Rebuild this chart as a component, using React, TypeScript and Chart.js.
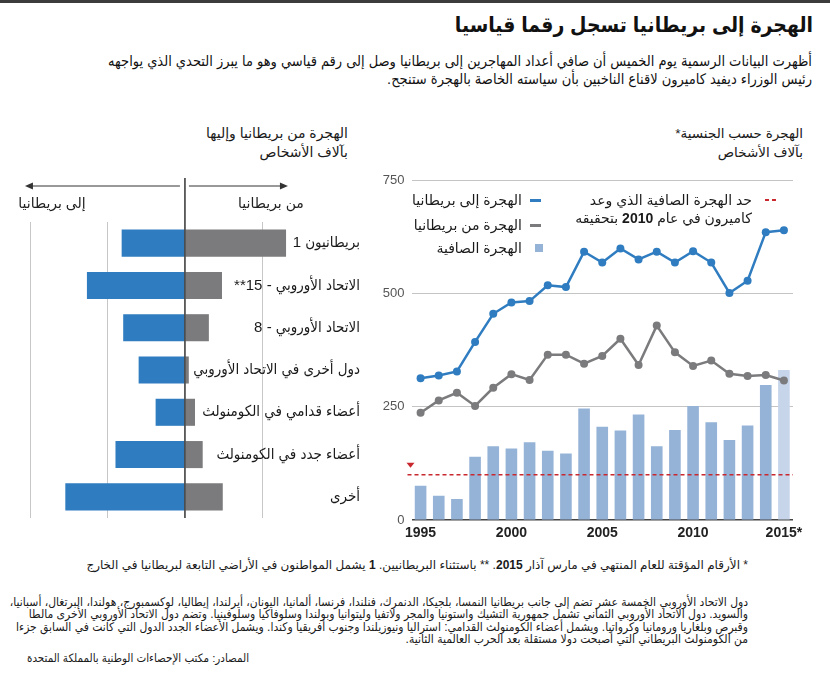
import React, { useEffect, useRef } from "react";
import { Chart, registerables } from "chart.js";

Chart.register(...registerables);

// ---------- data ----------
const years = ["1995","1996","1997","1998","1999","2000","2001","2002","2003","2004","2005","2006","2007","2008","2009","2010","2011","2012","2013","2014","2015"];
const yearTickLabels: Record<string, string> = { "1995": "1995", "2000": "2000", "2005": "2005", "2010": "2010", "2015": "2015*" };
const immigration = [313, 319, 328, 393, 455, 480, 483, 518, 514, 592, 568, 599, 575, 592, 568, 593, 568, 501, 528, 635, 639];
const emigration = [237, 264, 281, 252, 292, 322, 309, 365, 365, 345, 362, 400, 342, 429, 370, 340, 352, 323, 318, 320, 308];
const netMigration = [76, 54, 47, 140, 163, 158, 172, 153, 147, 246, 206, 198, 233, 163, 199, 252, 216, 177, 209, 298, 331];
const netTarget = 100;
const provisionalYear = "2015";

const groups = [
  "بريطانيون 1",
  "الاتحاد الأوروبي - 15**",
  "الاتحاد الأوروبي - 8",
  "دول أخرى في الاتحاد الأوروبي",
  "أعضاء قدامي في الكومنولث",
  "أعضاء جدد في الكومنولث",
  "أخرى",
];
const toUK = [82, 127, 80, 60, 38, 90, 155];
const fromUK = [131, 48, 31, 5, 13, 23, 49];

const F = '"Liberation Sans", "DejaVu Sans", Arial, sans-serif';
const FC = '"Liberation Sans", "DejaVu Sans Condensed", "DejaVu Sans", Arial, sans-serif';

const BLUE = "#2f7dc0";
const GREY = "#7b7b7d";
const NET = "#95b3d7";
const NET_LIGHT = "#c7d5ea";
const RED = "#c8282e";

export default function App() {
  const leftRef = useRef<HTMLCanvasElement>(null);
  const rightRef = useRef<HTMLCanvasElement>(null);

  useEffect(() => {
    const leftDecor = {
      id: "leftDecor",
      afterDraw(chart: any) {
        const ctx = chart.ctx;
        const xs = chart.scales.x;
        const ys = chart.scales.y;
        const ca = chart.chartArea;
        const x0 = xs.getPixelForValue(0);
        ctx.save();
        ctx.strokeStyle = "#333";
        ctx.lineWidth = 1.5;
        ctx.beginPath();
        ctx.moveTo(x0, 68);
        ctx.lineTo(x0, ca.bottom);
        ctx.stroke();
        const ay = 76;
        ctx.lineWidth = 1;
        ctx.fillStyle = "#333";
        ctx.beginPath();
        ctx.moveTo(x0 - 5, ay);
        ctx.lineTo(x0 - 155, ay);
        ctx.moveTo(x0 + 4, ay);
        ctx.lineTo(x0 + 98, ay);
        ctx.stroke();
        ctx.beginPath();
        ctx.moveTo(x0 - 160, ay);
        ctx.lineTo(x0 - 152, ay - 3.5);
        ctx.lineTo(x0 - 152, ay + 3.5);
        ctx.closePath();
        ctx.fill();
        ctx.beginPath();
        ctx.moveTo(x0 + 103, ay);
        ctx.lineTo(x0 + 95, ay - 3.5);
        ctx.lineTo(x0 + 95, ay + 3.5);
        ctx.closePath();
        ctx.fill();
        ctx.fillStyle = "#222";
        ctx.font = `14px ${F}`;
        ctx.textAlign = "center";
        ctx.textBaseline = "middle";
        (ctx as any).direction = "rtl";
        ctx.fillText("إلى بريطانيا", x0 - 133, 94);
        ctx.fillText("من بريطانيا", x0 + 86, 94);
        ctx.textAlign = "right";
        ctx.font = `15px ${FC}`;
        ctx.fillStyle = "#1a1a1a";
        groups.forEach((g, i) => {
          ctx.fillText(g, 360, ys.getPixelForValue(i));
        });
        ctx.restore();
      },
    };

    const left = new Chart(leftRef.current!, {
      type: "bar",
      data: {
        labels: groups,
        datasets: [
          {
            label: "إلى بريطانيا",
            data: toUK.map((v) => -v),
            backgroundColor: BLUE,
            barPercentage: 0.64,
            categoryPercentage: 1,
          },
          {
            label: "من بريطانيا",
            data: fromUK,
            backgroundColor: GREY,
            barPercentage: 0.64,
            categoryPercentage: 1,
          },
        ],
      },
      options: {
        indexAxis: "y",
        responsive: false,
        animation: false,
        layout: { padding: { top: 112, bottom: 12, left: 19, right: 77 } },
        plugins: { legend: { display: false }, tooltip: { enabled: false } },
        scales: {
          x: {
            stacked: true,
            min: -215,
            max: 140,
            z: 1,
            ticks: { display: false, stepSize: 100, includeBounds: false } as any,
            grid: {
              drawTicks: false,
              color: (c: any) => (c.tick && c.tick.value === 0 ? "rgba(0,0,0,0)" : "rgba(0,0,0,0.22)"),
            },
            border: { display: false },
          },
          y: { stacked: true, display: false },
        },
      } as any,
      plugins: [leftDecor],
    });

    const rightDecor = {
      id: "rightDecor",
      afterDatasetsDraw(chart: any) {
        const ctx = chart.ctx;
        const ys = chart.scales.y;
        const ca = chart.chartArea;
        const y = ys.getPixelForValue(netTarget);
        ctx.save();
        ctx.strokeStyle = RED;
        ctx.lineWidth = 1.5;
        ctx.setLineDash([4, 3]);
        ctx.beginPath();
        ctx.moveTo(ca.left - 4, y);
        ctx.lineTo(ca.right, y);
        ctx.stroke();
        ctx.setLineDash([]);
        ctx.fillStyle = RED;
        const tx = ca.left - 1;
        const ty = y - 12;
        ctx.beginPath();
        ctx.moveTo(tx - 4, ty);
        ctx.lineTo(tx + 4, ty);
        ctx.lineTo(tx, ty + 5);
        ctx.closePath();
        ctx.fill();
        ctx.restore();
      },
    };

    const right = new Chart(rightRef.current!, {
      type: "bar",
      data: {
        labels: years,
        datasets: [
          {
            type: "line",
            label: "الهجرة إلى بريطانيا",
            data: immigration,
            borderColor: BLUE,
            backgroundColor: BLUE,
            borderWidth: 2.5,
            pointRadius: 4,
            pointBorderWidth: 0,
            pointBackgroundColor: BLUE,
            tension: 0,
            order: 1,
          },
          {
            type: "line",
            label: "الهجرة من بريطانيا",
            data: emigration,
            borderColor: GREY,
            backgroundColor: GREY,
            borderWidth: 2.5,
            pointRadius: 4,
            pointBorderWidth: 0,
            pointBackgroundColor: GREY,
            tension: 0,
            order: 2,
          },
          {
            type: "bar",
            label: "الهجرة الصافية",
            data: netMigration,
            backgroundColor: years.map((y) => (y === provisionalYear ? NET_LIGHT : NET)),
            barPercentage: 0.64,
            categoryPercentage: 1,
            order: 3,
          },
        ],
      },
      options: {
        responsive: false,
        animation: false,
        layout: { padding: { top: 15, bottom: 4, left: 0, right: 37 } },
        plugins: { legend: { display: false }, tooltip: { enabled: false } },
        scales: {
          x: {
            grid: { display: false, drawTicks: false },
            border: { display: false },
            ticks: {
              autoSkip: false,
              maxRotation: 0,
              padding: 5,
              color: "#222",
              font: { family: F, size: 14, weight: "bold" },
              callback: (_v: any, i: number) => yearTickLabels[years[i]] ?? "",
            },
          },
          y: {
            min: 0,
            max: 750,
            afterFit: (s: any) => {
              s.width = 46.5;
            },
            ticks: { stepSize: 250, padding: 7, color: "#555", font: { family: F, size: 13 } },
            grid: {
              drawTicks: false,
              color: (c: any) => (c.tick && c.tick.value === 0 ? "#444" : "#c4c4c4"),
              lineWidth: (c: any) => (c.tick && c.tick.value === 0 ? 1.5 : 1),
            },
            border: { display: false },
          },
        },
      } as any,
      plugins: [rightDecor],
    });

    return () => {
      left.destroy();
      right.destroy();
    };
  }, []);

  const abs = (s: React.CSSProperties): React.CSSProperties => ({
    position: "absolute",
    whiteSpace: "nowrap",
    fontFamily: F,
    color: "#1a1a1a",
    ...s,
  });

  return (
    <div style={{ position: "absolute", left: 0, top: 0, width: 830, height: 673, background: "#fff", overflow: "hidden" }}>
      <div style={{ position: "absolute", left: 0, top: 0, width: 830, height: 3, background: "#3c3c3c" }} />
      <div dir="rtl" style={abs({ right: 17, top: 10, fontSize: 21, lineHeight: "30px", fontWeight: "bold", color: "#111", fontFamily: FC })}>
        الهجرة إلى بريطانيا تسجل رقما قياسيا
      </div>
      <div dir="rtl" style={abs({ right: 18, top: 52, fontSize: 14.5, lineHeight: "18px", textAlign: "right", color: "#111", fontFamily: FC })}>
        <div>أظهرت البيانات الرسمية يوم الخميس أن صافي أعداد المهاجرين إلى بريطانيا وصل إلى رقم قياسي وهو ما يبرز التحدي الذي يواجهه</div>
        <div>رئيس الوزراء ديفيد كاميرون لاقناع الناخبين بأن سياسته الخاصة بالهجرة ستنجح.</div>
      </div>

      {/* left chart */}
      <div dir="rtl" style={abs({ right: 482, top: 124, fontSize: 14, lineHeight: "19px", textAlign: "right" })}>
        <div>الهجرة من بريطانيا وإليها</div>
        <div>بآلاف الأشخاص</div>
      </div>
      <canvas ref={leftRef} width={370} height={420} style={{ position: "absolute", left: 0, top: 110, width: 370, height: 420 }} />

      {/* right chart */}
      <div dir="rtl" style={abs({ right: 27, top: 124, fontSize: 13.5, lineHeight: "19px", textAlign: "right" })}>
        <div>الهجرة حسب الجنسية*</div>
        <div>بآلاف الأشخاص</div>
      </div>
      <canvas ref={rightRef} width={465} height={386} style={{ position: "absolute", left: 365, top: 165, width: 465, height: 386 }} />

      {/* legend */}
      <div style={{ position: "absolute", left: 530, top: 199, width: 11, height: 2.5, background: BLUE }} />
      <div style={{ position: "absolute", left: 530, top: 224, width: 11, height: 2.5, background: GREY }} />
      <div style={{ position: "absolute", left: 535, top: 244, width: 8, height: 8, background: NET }} />
      <div dir="rtl" style={abs({ right: 308, top: 191, fontSize: 14, lineHeight: "18px" })}>الهجرة إلى بريطانيا</div>
      <div dir="rtl" style={abs({ right: 308, top: 216, fontSize: 14, lineHeight: "18px" })}>الهجرة من بريطانيا</div>
      <div dir="rtl" style={abs({ right: 308, top: 239, fontSize: 14, lineHeight: "18px" })}>الهجرة الصافية</div>
      <div style={{ position: "absolute", left: 765, top: 199, width: 4, height: 2, background: RED }} />
      <div style={{ position: "absolute", left: 772, top: 199, width: 4, height: 2, background: RED }} />
      <div dir="rtl" style={abs({ right: 78, top: 191, fontSize: 14, lineHeight: "18px", textAlign: "right" })}>
        <div>حد الهجرة الصافية الذي وعد</div>
        <div>
          كاميرون في عام <b>2010</b> بتحقيقه
        </div>
      </div>

      {/* footnotes */}
      <div dir="rtl" style={abs({ right: 82, top: 558, fontSize: 12, lineHeight: "14px" })}>
        * الأرقام المؤقتة للعام المنتهي في مارس آذار <b>2015</b>. ** باستثناء البريطانيين. <b>1</b> يشمل المواطنون في الأراضي التابعة لبريطانيا في الخارج
      </div>
      <div dir="rtl" style={abs({ right: 82, top: 596, fontSize: 12, lineHeight: "12.3px", textAlign: "right", fontFamily: FC })}>
        <div>دول الاتحاد الأوروبي الخمسة عشر تضم إلى جانب بريطانيا النمسا، بلجيكا، الدنمرك، فنلندا، فرنسا، ألمانيا، اليونان، أيرلندا، إيطاليا، لوكسمبورج، هولندا، البرتغال، أسبانيا،</div>
        <div>والسويد. دول الاتحاد الأوروبي الثماني تشمل جمهورية التشيك واستونيا والمجر ولاتفيا وليتوانيا وبولندا وسلوفاكيا وسلوفينيا. وتضم دول الاتحاد الأوروبي الأخرى مالطا</div>
        <div>وقبرص وبلغاريا ورومانيا وكرواتيا. ويشمل أعضاء الكومنولث القدامي: استراليا ونيوزيلندا وجنوب أفريقيا وكندا. ويشمل الأعضاء الجدد الدول التي كانت في السابق جزءا</div>
        <div>من الكومنولث البريطاني التي أصبحت دولا مستقلة بعد الحرب العالمية الثانية.</div>
      </div>
      <div dir="rtl" style={abs({ left: 27, top: 651, fontSize: 11.5, lineHeight: "14px", fontFamily: FC })}>
        المصادر: مكتب الإحصاءات الوطنية  بالمملكة المتحدة
      </div>
    </div>
  );
}
